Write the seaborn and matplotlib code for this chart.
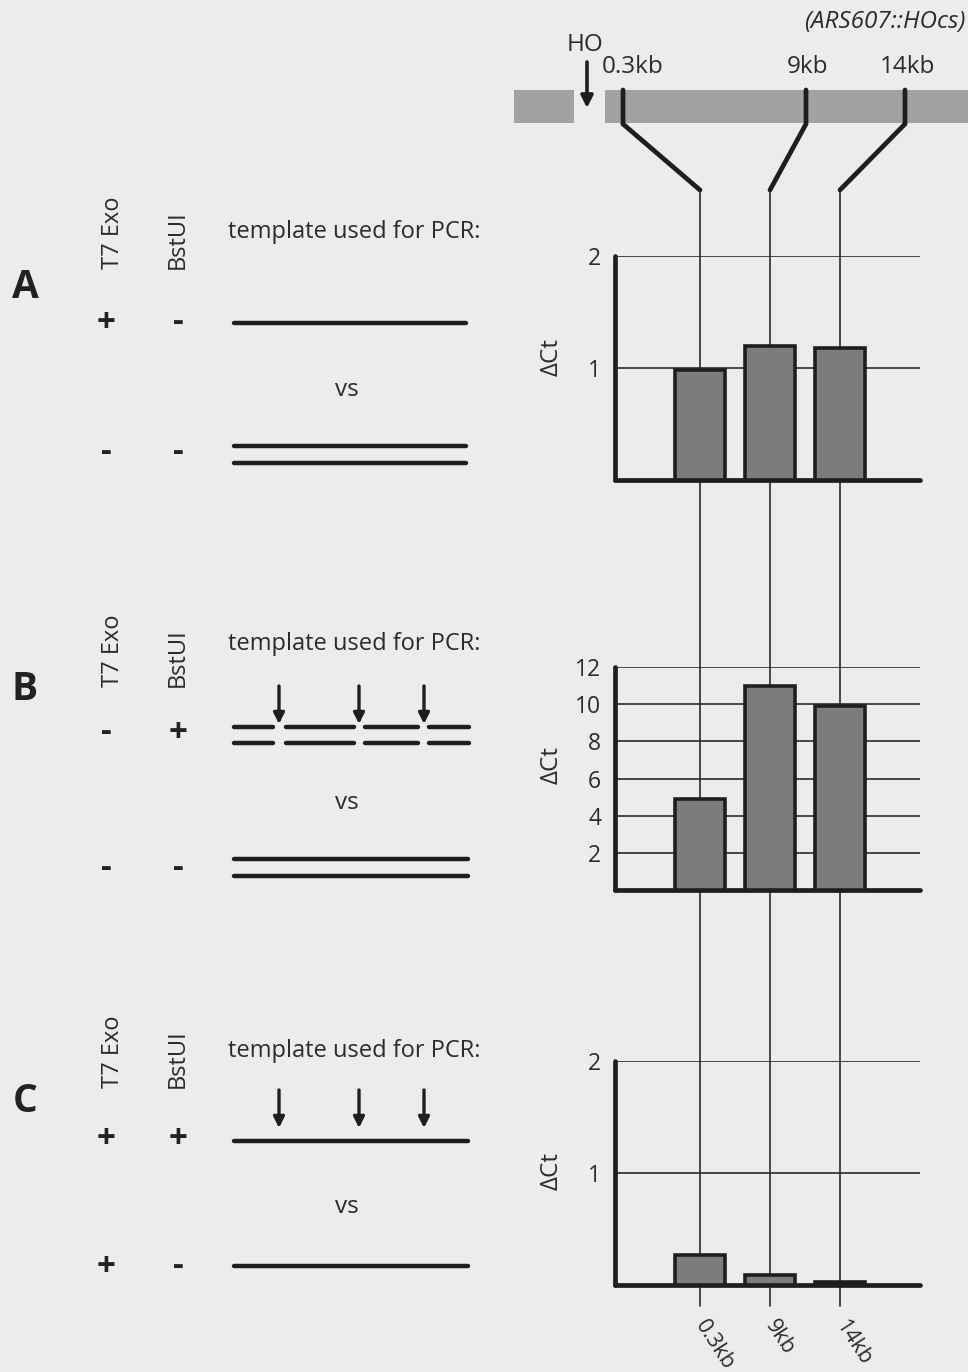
import numpy as np
import matplotlib
matplotlib.use("Agg")
import matplotlib.pyplot as plt
import seaborn as sns

# Data
positions = ["0.3kb", "9kb", "14kb"]
dct_a = [0.98, 1.20, 1.18]
dct_b = [4.9, 11.0, 9.9]
dct_c = [0.27, 0.09, 0.03]
yticks_a = [1, 2]
yticks_b = [2, 4, 6, 8, 10, 12]
yticks_c = [1, 2]
panel_letters = ["A", "B", "C"]
treatments = [(("+", "-"), ("-", "-")),
              (("-", "+"), ("-", "-")),
              (("+", "+"), ("+", "-"))]

sns.set_theme(style="white")
plt.rcParams["font.family"] = ["Open Sans", "DejaVu Sans"]

BG = "#ececec"
INK = "#1e1e1e"
TXT = "#2b2b2b"
FS = 17.5
W, H = 968, 1372
fig = plt.figure(figsize=(W / 100, H / 100), dpi=100, facecolor=BG)

# overlay in pixel coordinates for the sketches
ov = fig.add_axes([0, 0, 1, 1], zorder=0)
ov.set_xlim(0, W)
ov.set_ylim(H, 0)
ov.axis("off")
ov.set_facecolor(BG)


def px_axes(left, top, right, bottom):
    return fig.add_axes([left / W, 1 - bottom / H, (right - left) / W, (bottom - top) / H], zorder=2)


panels = [
    (dct_a, yticks_a, 2, (615, 256, 920, 480), 0.55),
    (dct_b, yticks_b, 12, (615, 667, 920, 890), 0.56),
    (dct_c, yticks_c, 2, (615, 1061, 920, 1285), 0.51),
]
axes = []
for i, (vals, ticks, top, rect, lab_y) in enumerate(panels):
    ax = px_axes(*rect)
    ax.set_facecolor("none")
    sns.barplot(x=positions, y=vals, order=positions, color="#7c7c7c", saturation=1,
                width=0.72, edgecolor=INK, linewidth=2.6, ax=ax, zorder=3)
    ax.set_xlim(-1.214, 3.143)
    ax.set_ylim(0, top)
    ax.set_yticks(ticks)
    ax.set_axisbelow(True)
    ax.yaxis.grid(True, color="#2a2a2a", linewidth=1.2)
    ax.xaxis.grid(False)
    for s in ["top", "right"]:
        ax.spines[s].set_visible(False)
    for s in ["left", "bottom"]:
        ax.spines[s].set_linewidth(3.4)
        ax.spines[s].set_color(INK)
        ax.spines[s].set_capstyle("round")
    ax.tick_params(axis="y", length=3, width=2, color=INK, pad=7, labelsize=16.5, labelcolor=TXT)
    ax.set_ylabel("ΔCt", fontsize=FS, color=TXT)
    ax.yaxis.set_label_coords(-0.17, lab_y)
    ax.set_xlabel("")
    if i < 2:
        ax.set_xticklabels([])
        ax.tick_params(axis="x", length=0)
    else:
        ax.tick_params(axis="x", length=0, pad=27)
        for t in ax.get_xticklabels():
            t.set_rotation(-57)
            t.set_rotation_mode("anchor")
            t.set_ha("left")
            t.set_va("center")
            t.set_fontsize(15.5)
            t.set_color(TXT)
    axes.append(ax)

# vertical guide lines through all panels, at the bar positions
fig.canvas.draw()
xs = axes[2].transData.transform([(k, 0) for k in range(len(positions))])[:, 0]
for x in xs:
    ov.plot([x, x], [190, 1306], color="#2a2a2a", lw=1.2, solid_capstyle="round", zorder=1)

# top chromosome sketch
ov.add_patch(plt.Rectangle((514, 90), 60, 33, color="#a2a2a2", lw=0, zorder=1))
ov.add_patch(plt.Rectangle((605, 90), 363, 33, color="#a2a2a2", lw=0, zorder=1))
ov.annotate("", xy=(587, 108), xytext=(587, 62),
            arrowprops=dict(arrowstyle="-|>", lw=2.6, color=INK, mutation_scale=18, shrinkA=0, shrinkB=0))
ov.text(585, 45, "HO", ha="center", va="center", fontsize=FS, color=TXT)
ov.text(965, 22, "(ARS607::HOcs)", ha="right", va="center", fontsize=FS, style="italic", color=TXT)
for lab, x0, x in zip(positions, [623, 806, 905], xs):
    ov.plot([x0, x0, x], [90, 124, 190], color=INK, lw=3.4, solid_joinstyle="miter", zorder=2)
ov.text(602, 67, "0.3kb", ha="left", va="center", fontsize=FS, color=TXT)
ov.text(808, 67, "9kb", ha="center", va="center", fontsize=FS, color=TXT)
ov.text(907, 67, "14kb", ha="center", va="center", fontsize=FS, color=TXT)

# left-hand template sketches
letter_y = [287, 690, 1102]
bottoms = [269, 687, 1088]
tmpl_y = [232, 644, 1051]
vs_y = [390, 803, 1207]
row1 = [323, 733, 1140]
row2 = [453, 868, 1267]
for p in range(3):
    ov.text(25, letter_y[p], panel_letters[p], ha="center", va="center", fontsize=28,
            fontweight="bold", color="#222222")
    ov.text(113, bottoms[p], "T7 Exo", rotation=90, ha="center", va="bottom", fontsize=17, color=TXT)
    ov.text(178, bottoms[p], "BstUI", rotation=90, ha="center", va="bottom", fontsize=17, color=TXT)
    ov.text(228, tmpl_y[p], "template used for PCR:", ha="left", va="center", fontsize=17, color=TXT)
    ov.text(347, vs_y[p], "vs", ha="center", va="center", fontsize=FS, color=TXT)
    for (a, b), yy in zip(treatments[p], [row1[p], row2[p]]):
        ov.text(106, yy, a, ha="center", va="center", fontsize=24, fontweight="bold", color="#222222")
        ov.text(178, yy, b, ha="center", va="center", fontsize=24, fontweight="bold", color="#222222")

# panel A: single strand vs double strand
ov.plot([234, 466], [323, 323], color=INK, lw=3.2)
for yy in [446, 463]:
    ov.plot([234, 466], [yy, yy], color=INK, lw=3.2)
# panel B: cut double strand vs intact double strand
segs = [(234, 273), (286, 354), (365, 418), (429, 469)]
for yy in [727, 743]:
    for a, b in segs:
        ov.plot([a, b], [yy, yy], color=INK, lw=3.2)
for yy in [859, 876]:
    ov.plot([234, 468], [yy, yy], color=INK, lw=3.2)
# panel C: single strand vs single strand
ov.plot([234, 468], [1141, 1141], color=INK, lw=3.2)
ov.plot([234, 468], [1266, 1266], color=INK, lw=3.2)
for y0, y1 in [(686, 724), (1090, 1128)]:
    for x in [279, 359, 424]:
        ov.annotate("", xy=(x, y1), xytext=(x, y0),
                    arrowprops=dict(arrowstyle="-|>", lw=2.4, color=INK, mutation_scale=16, shrinkA=0, shrinkB=0))

fig.savefig("out.png", dpi=100, facecolor=BG)
